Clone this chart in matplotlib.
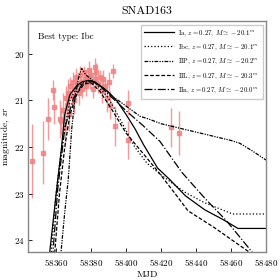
import numpy as np
import matplotlib
matplotlib.use('Agg')
import matplotlib.pyplot as plt

plt.rcParams['font.family'] = 'serif'
plt.rcParams['font.serif'] = ['cmr10', 'DejaVu Serif']
plt.rcParams['mathtext.fontset'] = 'cm'
plt.rcParams['axes.formatter.use_mathtext'] = True

# observations: MJD, magnitude, error
obs_mjd = [58346.1, 58352.4, 58355.6, 58358.5, 58358.7, 58362.0,
           58363.0, 58364.0, 58365.0, 58365.5, 58366.0, 58367.0, 58367.5,
           58368.0, 58369.0, 58369.5, 58370.0, 58371.0, 58371.5, 58372.0,
           58373.0, 58373.5, 58374.0, 58375.0, 58376.0, 58376.5, 58377.0,
           58378.0, 58379.0, 58379.5, 58380.0, 58381.0, 58382.0, 58382.3,
           58383.0, 58384.0, 58385.0, 58386.0, 58387.0, 58388.0, 58389.0,
           58390.0, 58391.0, 58392.5, 58393.5, 58401.0, 58401.3, 58425.5,
           58425.7, 58430.3]
obs_mag = [22.30, 22.12, 21.40, 20.78, 21.15, 21.40,
           21.45, 21.20, 21.60, 20.95, 21.10, 20.85, 21.30,
           20.70, 20.90, 20.60, 21.00, 20.75, 20.50, 20.65,
           20.85, 20.45, 20.60, 20.75, 20.40, 20.55, 20.70,
           20.50, 20.35, 20.60, 20.45, 20.75, 20.55, 20.29,
           20.40, 20.65, 20.50, 20.80, 20.55, 20.70, 20.95,
           20.60, 21.10, 20.36, 21.54, 21.05, 21.85, 20.80,
           21.58, 21.70]
obs_err = [0.80, 0.67, 0.45, 0.22, 0.35, 0.40,
           0.30, 0.35, 0.40, 0.25, 0.30, 0.30, 0.35,
           0.20, 0.25, 0.20, 0.30, 0.20, 0.20, 0.15,
           0.25, 0.20, 0.15, 0.20, 0.15, 0.15, 0.20,
           0.15, 0.20, 0.15, 0.15, 0.20, 0.15, 0.20,
           0.20, 0.20, 0.15, 0.25, 0.20, 0.20, 0.30,
           0.20, 0.30, 0.15, 0.43, 0.27, 0.40, 0.20,
           0.42, 0.48]

# model light curves
ia_mjd = [58356.0, 58358.5, 58361.0, 58363.0, 58365.0, 58368.0, 58372.0, 58375.0,
          58378.5, 58382.0, 58386.0, 58390.0, 58395.0, 58400.0, 58405.0, 58410.0,
          58418.0, 58425.0, 58434.0, 58445.0, 58455.0, 58464.0, 58480.0]
ia_mag = [24.4, 23.55, 22.7, 22.07, 21.3, 20.87, 20.68, 20.6,
          20.57, 20.6, 20.7, 20.82, 21.02, 21.3, 21.6, 21.95,
          22.45, 22.7, 23.05, 23.35, 23.55, 23.75, 23.75]

ibc_mjd = [58357.0, 58360.0, 58364.0, 58368.0, 58372.0, 58377.0, 58383.0, 58390.0,
           58398.0, 58405.0, 58412.0, 58420.0, 58428.0, 58434.0, 58445.0, 58461.0,
           58480.0]
ibc_mag = [24.4, 23.0, 21.8, 21.0, 20.7, 20.6, 20.65, 20.95,
           21.5, 22.0, 22.35, 22.6, 22.82, 22.98, 23.2, 23.44,
           23.44]

iip_mjd = [58362.5, 58365.0, 58367.0, 58369.0, 58371.0, 58373.0, 58374.7, 58377.0,
           58382.0, 58390.0, 58400.0, 58408.0, 58413.0, 58420.0, 58431.0, 58440.0,
           58450.0, 58460.0, 58465.0, 58472.0, 58480.0]
iip_mag = [24.4, 23.4, 22.7, 21.6, 20.9, 20.5, 20.31, 20.45,
           20.6, 20.85, 21.12, 21.34, 21.4, 21.5, 21.6, 21.68,
           21.77, 21.86, 21.92, 22.08, 22.28]

iil_mjd = [58359.0, 58362.0, 58365.0, 58368.0, 58372.0, 58376.0, 58380.0, 58385.0,
           58392.0, 58400.0, 58410.0, 58419.0, 58428.0, 58435.4, 58450.0, 58472.0]
iil_mag = [24.4, 23.0, 22.0, 21.3, 20.85, 20.65, 20.62, 20.8,
           21.2, 21.7, 22.15, 22.56, 23.0, 23.37, 23.72, 24.3]

iin_mjd = [58358.0, 58361.0, 58365.0, 58370.0, 58375.0, 58380.0, 58385.0, 58390.0,
           58400.0, 58410.0, 58419.4, 58431.8, 58445.0, 58457.5, 58473.0]
iin_mag = [24.4, 22.9, 21.6, 20.95, 20.65, 20.58, 20.68, 20.87,
           21.22, 21.55, 21.88, 22.54, 23.1, 23.59, 24.3]

fig = plt.figure(figsize=(2.8, 2.8), dpi=100)
ax = fig.add_axes([0.1, 0.101, 0.85, 0.823])

ax.errorbar(obs_mjd, obs_mag, yerr=obs_err, fmt='s', ms=2.2, color='#f08080',
            ecolor='#f08080', elinewidth=1.0, alpha=0.8, capsize=0, zorder=1)

lw = 0.9
ax.plot(ia_mjd, ia_mag, color='k', lw=lw, ls='-',
        label=r'Ia, $z=0.27$, $M\simeq-20.1^m$')
ax.plot(ibc_mjd, ibc_mag, color='k', lw=lw, ls=':',
        label=r'Ibc, $z=0.27$, $M\simeq-20.1^m$')
ax.plot(iip_mjd, iip_mag, color='k', lw=lw, ls=(0, (3, 1, 1, 1, 1, 1)),
        label=r'IIP, $z=0.27$, $M\simeq-20.2^m$')
ax.plot(iil_mjd, iil_mag, color='k', lw=lw, ls=(0, (3, 1.5)),
        label=r'IIL, $z=0.27$, $M\simeq-20.3^m$')
ax.plot(iin_mjd, iin_mag, color='k', lw=lw, ls='-.',
        label=r'IIn, $z=0.27$, $M\simeq-20.0^m$')

ax.set_xlim(58344, 58480)
ax.set_ylim(24.25, 19.3)
ax.set_xticks([58360, 58380, 58400, 58420, 58440, 58460, 58480])
ax.set_yticks([20, 21, 22, 23, 24])
ax.tick_params(direction='in', labelsize=6.5, length=3, width=0.6)
ax.tick_params(axis='y', pad=2.5)
for s in ax.spines.values():
    s.set_color('#888888')
    s.set_linewidth(1.0)

ax.set_title('SNAD163', fontsize=8.5, pad=5)
ax.set_xlabel('MJD', fontsize=7, labelpad=2)
ax.set_ylabel(r'magnitude, $zr$', fontsize=6.8)
ax.yaxis.set_label_coords(-0.068, 0.5)
ax.text(0.04, 0.95, 'Best type: Ibc', transform=ax.transAxes,
        fontsize=6.5, va='top', ha='left')

ax.legend(loc='upper right', fontsize=4.9, handlelength=4.4, labelspacing=0.7,
          borderpad=0.5, handletextpad=0.6, frameon=True, fancybox=False,
          edgecolor='#cccccc', framealpha=1.0)

fig.savefig('out.png', dpi=100)
